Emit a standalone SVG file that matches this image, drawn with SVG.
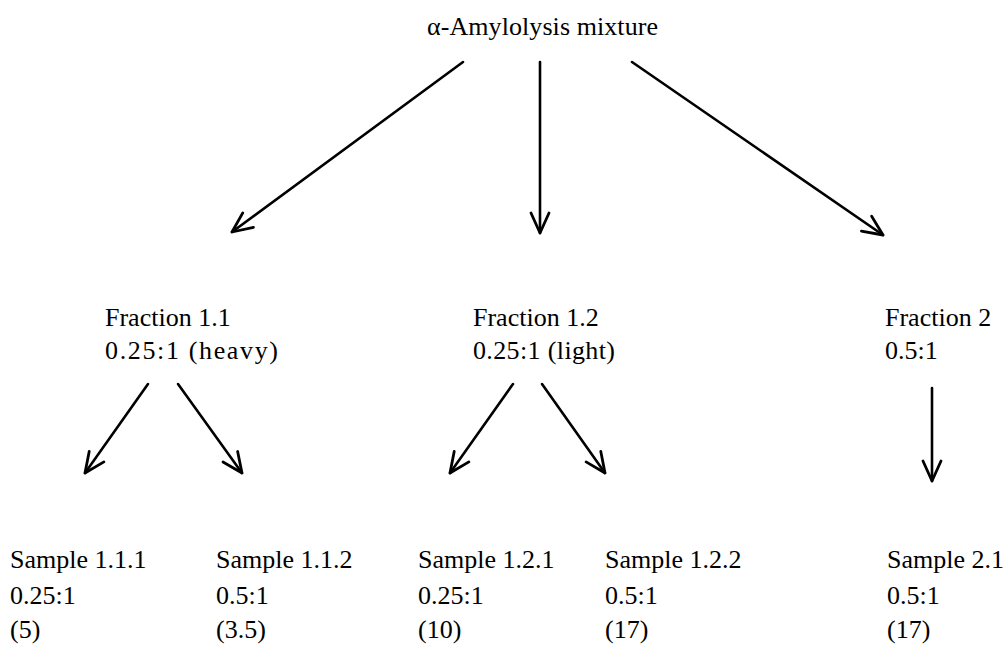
<svg xmlns="http://www.w3.org/2000/svg" width="1003" height="645" viewBox="0 0 1003 645">
<style>
text{font-family:"Liberation Serif","Times New Roman",serif;font-size:26px;fill:#000}
.c{stroke:#000;stroke-width:2.6;fill:none;stroke-linecap:round}
</style>
<defs>
<marker id="ah" markerUnits="userSpaceOnUse" markerWidth="26" markerHeight="26" viewBox="0 0 26 26" refX="23" refY="13" orient="auto">
<path d="M3,4 L23,13 L3,22" fill="none" stroke="#000" stroke-width="2.8" stroke-linecap="round" stroke-linejoin="round"/>
</marker>
</defs>
<rect width="1003" height="645" fill="#fff"/>
<g id="connectors">
<line class="c" x1="463" y1="62" x2="232" y2="232" marker-end="url(#ah)"/>
<line class="c" x1="540" y1="62" x2="540" y2="233" marker-end="url(#ah)"/>
<line class="c" x1="632" y1="62" x2="883" y2="235" marker-end="url(#ah)"/>
<line class="c" x1="148" y1="384" x2="85" y2="473" marker-end="url(#ah)"/>
<line class="c" x1="178" y1="384" x2="242" y2="473" marker-end="url(#ah)"/>
<line class="c" x1="513" y1="384" x2="450" y2="473" marker-end="url(#ah)"/>
<line class="c" x1="542" y1="384" x2="605" y2="473" marker-end="url(#ah)"/>
<line class="c" x1="932" y1="388" x2="932" y2="481" marker-end="url(#ah)"/>
</g>
<g id="root"><text x="427" y="35" textLength="231" lengthAdjust="spacing">α-Amylolysis mixture</text></g>
<g id="fraction11"><text x="105" y="326">Fraction 1.1</text><text x="105" y="359" textLength="173" lengthAdjust="spacing">0.25:1 (heavy)</text></g>
<g id="fraction12"><text x="473" y="326">Fraction 1.2</text><text x="473" y="359" textLength="142" lengthAdjust="spacing">0.25:1 (light)</text></g>
<g id="fraction2"><text x="885" y="326">Fraction 2</text><text x="885" y="359">0.5:1</text></g>
<g id="sample111"><text x="10" y="568">Sample 1.1.1</text><text x="10" y="604">0.25:1</text><text x="10" y="638">(5)</text></g>
<g id="sample112"><text x="216" y="568">Sample 1.1.2</text><text x="216" y="604">0.5:1</text><text x="216" y="638">(3.5)</text></g>
<g id="sample121"><text x="418" y="568">Sample 1.2.1</text><text x="418" y="604">0.25:1</text><text x="418" y="638">(10)</text></g>
<g id="sample122"><text x="605" y="568">Sample 1.2.2</text><text x="605" y="604">0.5:1</text><text x="605" y="638">(17)</text></g>
<g id="sample21"><text x="887" y="568">Sample 2.1</text><text x="887" y="604">0.5:1</text><text x="887" y="638">(17)</text></g>
</svg>
